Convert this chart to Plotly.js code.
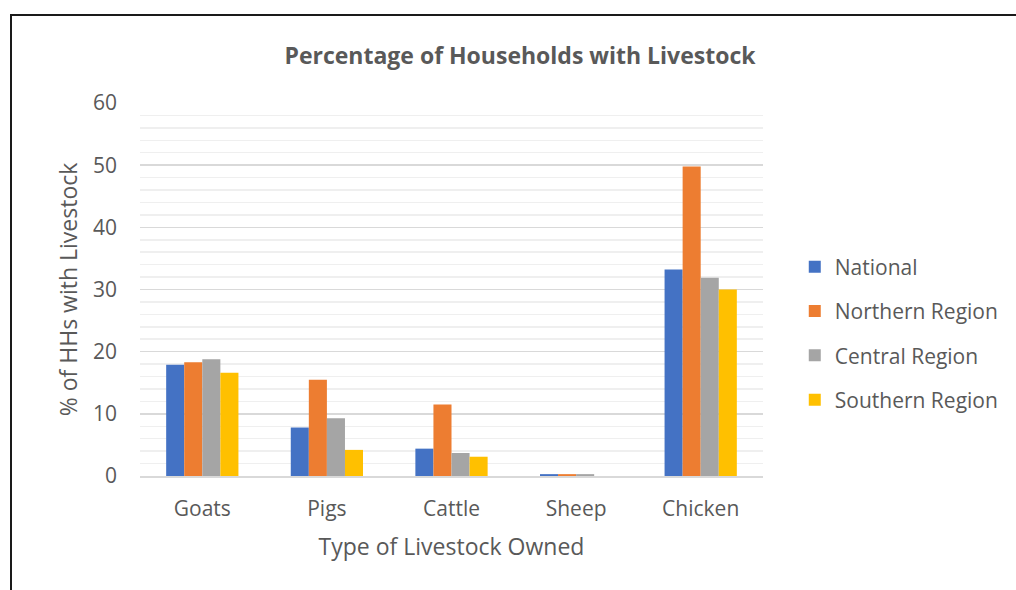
<!DOCTYPE html>
<html><head><meta charset="utf-8">
<script src="https://cdn.plot.ly/plotly-3.0.1.min.js"></script>
<style>
html,body{margin:0;padding:0;overflow:hidden;background:#fff;width:1016px;height:590px;}
#frame{position:absolute;left:10px;top:14px;width:1100px;height:700px;border:2px solid #1a1a1a;box-sizing:border-box;}
#chart{position:absolute;left:0;top:0;width:1016px;height:590px;}
</style></head>
<body>
<div id="frame"></div>
<div id="chart"></div>
<script>
const categories = ["Goats", "Pigs", "Cattle", "Sheep", "Chicken"];
const seriesNames = ["National", "Northern Region", "Central Region", "Southern Region"];
const national = [17.9, 7.8, 4.4, 0.3, 33.2];
const northern = [18.3, 15.5, 11.5, 0.3, 49.8];
const central = [18.8, 9.3, 3.7, 0.3, 31.9];
const southern = [16.6, 4.2, 3.1, 0.0, 30.0];
const yTicks = [0, 10, 20, 30, 40, 50, 60];

const colors = ["#4472C4", "#ED7D31", "#A5A5A5", "#FFC000"];
const values = [national, northern, central, southern];
const font = "'Open Sans', 'Noto Sans', sans-serif";
const txt = "#595959";

const traces = values.map((v, i) => ({
  type: "bar", x: categories, y: v, name: seriesNames[i],
  marker: {color: colors[i]}, legendgroup: "g" + i,
  hoverinfo: "x+y+name"
}));

const layout = {
  width: 1016, height: 590,
  paper_bgcolor: "rgba(0,0,0,0)", plot_bgcolor: "rgba(0,0,0,0)",
  margin: {l: 140, r: 253, t: 103, b: 114, pad: 0},
  font: {family: font, color: txt, size: 20},
  barmode: "group", bargap: 0.42, bargroupgap: 0,
  title: {text: "<b>Percentage of Households with Livestock</b>", font: {family: font, size: 23, color: txt},
          x: 520/1016, xref: "container", xanchor: "center", y: 1 - 56/590, yref: "container", yanchor: "middle"},
  xaxis: {
    showgrid: false, showline: true, linecolor: "#d9d9d9", linewidth: 2, ticks: "",
    tickfont: {size: 21, color: txt}, ticklabelstandoff: 13,
    title: {text: "Type of Livestock Owned", font: {size: 23, color: txt}, standoff: 18}
  },
  yaxis: {
    range: [0, 60], tickvals: yTicks, ticktext: yTicks.map(String),
    showgrid: true, gridcolor: "#d9d9d9", gridwidth: 1.5, zeroline: false, showline: false,
    minor: {dtick: 2, tick0: 0, showgrid: true, gridcolor: "#efefef", gridwidth: 1.5, ticks: ""},
    tickfont: {size: 21, color: txt}, ticklabelstandoff: 22,
    title: {text: "% of HHs with Livestock", font: {size: 23, color: txt}, standoff: 8}
  },
  legend: {x: 1.051, xanchor: "left", y: 0.615, yanchor: "top", traceorder: "grouped",
           tracegroupgap: 14, font: {size: 21, color: txt}, bgcolor: "rgba(0,0,0,0)"},
  showlegend: true
};
Plotly.newPlot("chart", traces, layout, {displayModeBar: false, staticPlot: true});
</script>
</body></html>
